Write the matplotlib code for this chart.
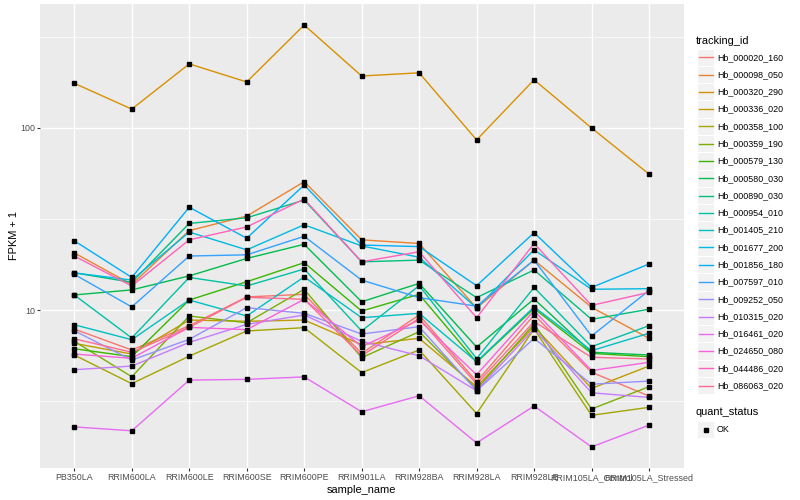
import numpy as np
import matplotlib
matplotlib.use("Agg")
import matplotlib.pyplot as plt
from matplotlib.patches import Rectangle
from matplotlib.lines import Line2D
from matplotlib.ticker import FixedLocator, NullFormatter, FixedFormatter

plt.rcParams['font.family'] = ['Liberation Sans', 'DejaVu Sans']

samples = ["PB350LA", "RRIM600LA", "RRIM600LE", "RRIM600SE", "RRIM600PE",
           "RRIM901LA", "RRIM928BA", "RRIM928LA", "RRIM928LE",
           "RRIM105LA_Control", "RRIM105LA_Stressed"]

tracking_ids = ["Hb_000020_160", "Hb_000098_050", "Hb_000320_290", "Hb_000336_020",
                "Hb_000358_100", "Hb_000359_190", "Hb_000579_130", "Hb_000580_030",
                "Hb_000890_030", "Hb_000954_010", "Hb_001405_210", "Hb_001677_200",
                "Hb_001856_180", "Hb_007597_010", "Hb_009252_050", "Hb_010315_020",
                "Hb_016461_020", "Hb_024650_080", "Hb_044486_020", "Hb_086063_020"]

colors = ["#F8766D", "#EA8331", "#D89000", "#C09B00", "#A3A500", "#7CAE00",
          "#39B600", "#00BB4E", "#00BF7D", "#00C1A3", "#00BFC4", "#00BAE0",
          "#00B0F6", "#35A2FF", "#9590FF", "#C77CFF", "#E76BF3", "#FA62DB",
          "#FF62BC", "#FF6C91"]

# FPKM + 1 values, one list per tracking_id, in sample order
hb_000020_160 = [7.86, 6.03, 8.20, 11.8, 12.2, 5.78, 9.39, 4.04, 9.39, 4.55, 3.37]
hb_000098_050 = [20.6, 13.8, 27.3, 32.8, 50.7, 24.3, 23.2, 10.26, 18.8, 10.35, 6.99]
hb_000320_290 = [176, 127, 225, 179, 368, 193, 201, 86, 184, 100, 55.8]
hb_000336_020 = [6.56, 5.73, 8.81, 8.67, 8.81, 6.45, 6.99, 3.79, 8.10, 3.71, 4.92]
hb_000358_100 = [5.66, 3.94, 5.58, 7.67, 8.00, 4.53, 6.03, 2.70, 7.87, 2.64, 2.92]
hb_000359_190 = [6.73, 4.30, 9.27, 8.51, 13.0, 5.47, 7.6, 3.67, 8.38, 2.86, 3.79]
hb_000579_130 = [6.13, 5.54, 11.35, 14.3, 18.2, 9.87, 12.2, 5.16, 10.2, 5.78, 5.54]
hb_000580_030 = [12.1, 12.9, 15.4, 19.2, 22.96, 11.1, 14.0, 6.26, 11.5, 5.86, 5.66]
hb_000890_030 = [16.0, 14.2, 29.9, 32.1, 40.2, 18.4, 18.8, 11.7, 16.6, 8.89, 10.1]
hb_000954_010 = [12.1, 7.02, 15.1, 13.55, 16.8, 7.67, 13.6, 5.41, 13.3, 6.29, 8.20]
hb_001405_210 = [8.30, 6.87, 11.35, 9.27, 15.2, 9.07, 9.59, 5.2, 10.4, 5.98, 7.45]
hb_001677_200 = [16.0, 14.6, 26.8, 21.4, 29.4, 22.5, 19.5, 10.26, 21.4, 13.0, 13.1]
hb_001856_180 = [24.0, 15.1, 36.7, 24.8, 48.6, 22.75, 22.3, 13.6, 26.6, 13.3, 17.9]
hb_007597_010 = [15.7, 10.4, 19.8, 20.1, 25.4, 14.6, 11.7, 10.5, 18.8, 7.20, 12.8]
hb_009252_050 = [7.70, 5.31, 6.90, 10.3, 9.59, 7.38, 8.1, 3.60, 6.99, 3.91, 4.07]
hb_010315_020 = [4.70, 4.92, 6.64, 8.34, 9.39, 6.73, 5.61, 3.60, 7.87, 3.51, 3.31]
hb_016461_020 = [2.28, 2.17, 4.12, 4.16, 4.29, 2.76, 3.38, 1.86, 2.97, 1.77, 2.33]
hb_024650_080 = [5.73, 5.43, 8.03, 7.80, 11.45, 6.29, 8.81, 4.41, 9.91, 4.65, 5.16]
hb_044486_020 = [19.8, 13.55, 24.3, 28.6, 40.7, 18.4, 20.9, 9.07, 23.2, 10.6, 12.5]
hb_086063_020 = [6.95, 5.86, 8.03, 11.75, 11.45, 5.61, 9.0, 3.92, 8.63, 5.50, 5.38]

series = [hb_000020_160, hb_000098_050, hb_000320_290, hb_000336_020, hb_000358_100,
          hb_000359_190, hb_000579_130, hb_000580_030, hb_000890_030, hb_000954_010,
          hb_001405_210, hb_001677_200, hb_001856_180, hb_007597_010, hb_009252_050,
          hb_010315_020, hb_016461_020, hb_024650_080, hb_044486_020, hb_086063_020]

quant_levels = ["OK"]
y_breaks = [10, 100]
y_break_labels = ["10", "100"]

W, H = 800, 500
fig = plt.figure(figsize=(8, 5), dpi=100)
fig.patch.set_facecolor("white")
ax = fig.add_axes([39.8 / W, 1 - 468 / H, (683.5 - 39.8) / W, (468 - 3.9) / H])
ax.set_facecolor("#EBEBEB")

x = np.arange(len(samples))
for vals, col in zip(series, colors):
    ax.plot(x, vals, color=col, lw=1.0, solid_capstyle="butt", zorder=3)
for vals in series:
    ax.plot(x, vals, linestyle="none", marker="s", markersize=2.3,
            color="black", zorder=4)

ax.set_yscale("log")
ax.yaxis.set_major_locator(FixedLocator(y_breaks))
ax.yaxis.set_major_formatter(FixedFormatter(y_break_labels))
ax.yaxis.set_minor_locator(FixedLocator([10 ** 0.5, 10 ** 1.5, 10 ** 2.5]))
ax.yaxis.set_minor_formatter(NullFormatter())
ax.set_xticks(x)
ax.set_xticklabels(samples)

allv = np.log10(np.concatenate([np.asarray(v, float) for v in series]))
lo, hi = allv.min(), allv.max()
pad = 0.05 * (hi - lo)
ax.set_ylim(10 ** (lo - pad), 10 ** (hi + pad))
ax.set_xlim(-0.6, len(samples) - 1 + 0.6)

ax.grid(True, which="major", color="white", lw=1.0, zorder=1)
ax.grid(True, which="minor", axis="y", color="white", lw=0.5, zorder=1)
ax.set_axisbelow(True)
for s in ax.spines.values():
    s.set_visible(False)
ax.tick_params(axis="both", which="major", length=2.0, width=0.8, color="#333333",
               labelsize=6.4, labelcolor="#4D4D4D", pad=1.5)
ax.tick_params(axis="y", which="minor", length=0)

ax.set_xlabel("sample_name", fontsize=7.9, color="black", labelpad=2)
ax.set_ylabel("FPKM + 1", fontsize=7.9, color="black", labelpad=1)

# legend (ggplot style)
def fx(px):
    return px / W

def fy(py):
    return 1 - py / H

key = 17.28
kx0 = 697.0
fig.text(fx(696), fy(40.7), "tracking_id", fontsize=7.9, va="center", ha="left")
for i, (tid, col) in enumerate(zip(tracking_ids, colors)):
    yc = 57.3 + key * i
    fig.patches.append(Rectangle((fx(kx0), fy(yc + key / 2)), key / W, key / H,
                                 transform=fig.transFigure, facecolor="#F2F2F2",
                                 edgecolor="white", lw=0.8))
    fig.lines.append(Line2D([fx(kx0 + 1.7), fx(kx0 + key - 1.7)], [fy(yc), fy(yc)],
                            transform=fig.transFigure, color=col, lw=1.0))
    fig.text(fx(717), fy(yc), tid, fontsize=6.4, va="center", ha="left")

fig.text(fx(696), fy(412.3), "quant_status", fontsize=7.9, va="center", ha="left")
for j, lev in enumerate(quant_levels):
    yc = 429.5 + key * j
    fig.patches.append(Rectangle((fx(kx0), fy(yc + key / 2)), key / W, key / H,
                                 transform=fig.transFigure, facecolor="#F2F2F2",
                                 edgecolor="white", lw=0.8))
    fig.lines.append(Line2D([fx(kx0 + key / 2)], [fy(yc)], transform=fig.transFigure,
                            marker="s", markersize=2.3, color="black", linestyle="none"))
    fig.text(fx(717), fy(yc), lev, fontsize=6.4, va="center", ha="left")

fig.savefig("out.png", dpi=100)
